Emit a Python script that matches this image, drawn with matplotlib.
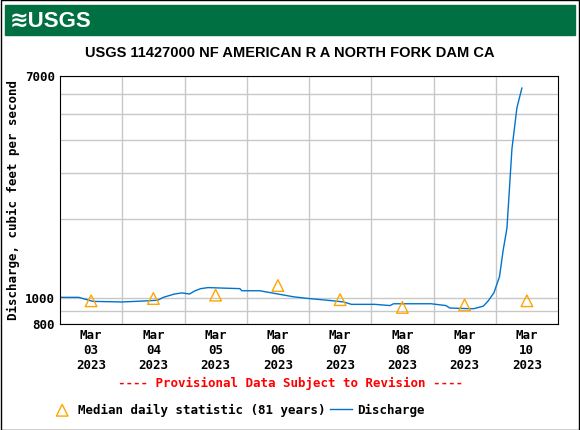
import matplotlib
matplotlib.use("Agg")
import matplotlib.pyplot as plt
from matplotlib.patches import Rectangle
from matplotlib.ticker import FixedLocator, NullFormatter

# days after Mar 03 2023 00:00 (label centers at integer days)
q_days = [-0.5, -0.2, 0.03, 0.5, 0.92, 1.07, 1.16, 1.34, 1.46, 1.58, 1.67, 1.76, 1.88,
          2.12, 2.39, 2.42, 2.71, 2.95, 3.25, 3.49, 3.79, 4.06, 4.18, 4.56, 4.8, 4.86,
          5.46, 5.7, 5.76, 6.06, 6.15, 6.3, 6.38, 6.47, 6.56, 6.62, 6.68, 6.76, 6.84, 6.92]
q_cfs = [1010, 1010, 975, 970, 980, 985, 1010, 1040, 1050, 1040, 1070, 1090, 1100,
         1095, 1090, 1070, 1070, 1045, 1015, 1000, 985, 970, 950, 950, 940, 955,
         955, 940, 920, 915, 915, 935, 980, 1050, 1210, 1530, 1850, 3700, 5300, 6300]
med_days = [0, 1, 2, 3, 4, 5, 6, 7]
med_cfs = [980, 1000, 1030, 1120, 990, 925, 945, 980]
tick_labels = ["Mar\n03\n2023", "Mar\n04\n2023", "Mar\n05\n2023", "Mar\n06\n2023",
               "Mar\n07\n2023", "Mar\n08\n2023", "Mar\n09\n2023", "Mar\n10\n2023"]

mono = {"family": "DejaVu Sans Mono", "weight": "bold"}

fig = plt.figure(figsize=(5.8, 4.3), dpi=100)
fig.patches.append(Rectangle((0.001, 0.001), 0.998, 0.998, transform=fig.transFigure,
                             fill=False, edgecolor="black", lw=1))
fig.patches.append(Rectangle((5 / 580, 1 - 35 / 430), 570 / 580, 30 / 430,
                             transform=fig.transFigure, color="#006F41"))
fig.text(10 / 580, 1 - 21 / 430, "≋USGS", color="white", fontsize=16, weight="bold",
         family=["Liberation Sans", "DejaVu Sans"], va="center")
fig.text(0.5, 1 - 53 / 430, "USGS 11427000 NF AMERICAN R A NORTH FORK DAM CA",
         ha="center", va="center", fontsize=10.5, family="Liberation Sans", weight="bold")

ax = fig.add_axes([60 / 580, 106 / 430, 498 / 580, 248 / 430])
ax.set_yscale("log")
ax.set_ylim(800, 7000)
ax.set_xlim(-0.5, 7.5)
med = ax.scatter(med_days, med_cfs, marker="^", s=70, facecolors="none", edgecolors="orange",
                 lw=1, label="Median daily statistic (81 years)", zorder=3)
line, = ax.plot(q_days, q_cfs, color="#0073CF", lw=1, label="Discharge")

ax.yaxis.set_major_locator(FixedLocator([800, 1000, 7000]))
ax.yaxis.set_minor_locator(FixedLocator([900, 2000, 3000, 4000, 5000, 6000]))
ax.yaxis.set_minor_formatter(NullFormatter())
ax.set_yticklabels(["800", "1000", "7000"], fontdict=mono, fontsize=9)
ax.set_xticks(med_days)
ax.set_xticklabels(tick_labels, fontdict=mono, fontsize=9)
ax.set_xticks([0.5 + i for i in range(7)], minor=True)
ax.tick_params(which="both", length=0)
ax.grid(True, which="minor", color="#c8c8c8", lw=1)
ax.grid(True, which="major", axis="y", color="#c8c8c8", lw=1)
ax.set_axisbelow(True)
ax.set_ylabel("Discharge, cubic feet per second", fontdict=mono, fontsize=9)

fig.text(0.5, 1 - 383 / 430, "---- Provisional Data Subject to Revision ----",
         ha="center", va="center", color="red", fontsize=9, **mono)
fig.legend(handles=[med, line], loc="center", bbox_to_anchor=(0.41, 1 - 410 / 430), ncol=2,
           frameon=False, prop={"family": "DejaVu Sans Mono", "weight": "bold", "size": 9},
           handlelength=1.8, columnspacing=0.3, handletextpad=0.4)

fig.savefig("out.png", dpi=100)
